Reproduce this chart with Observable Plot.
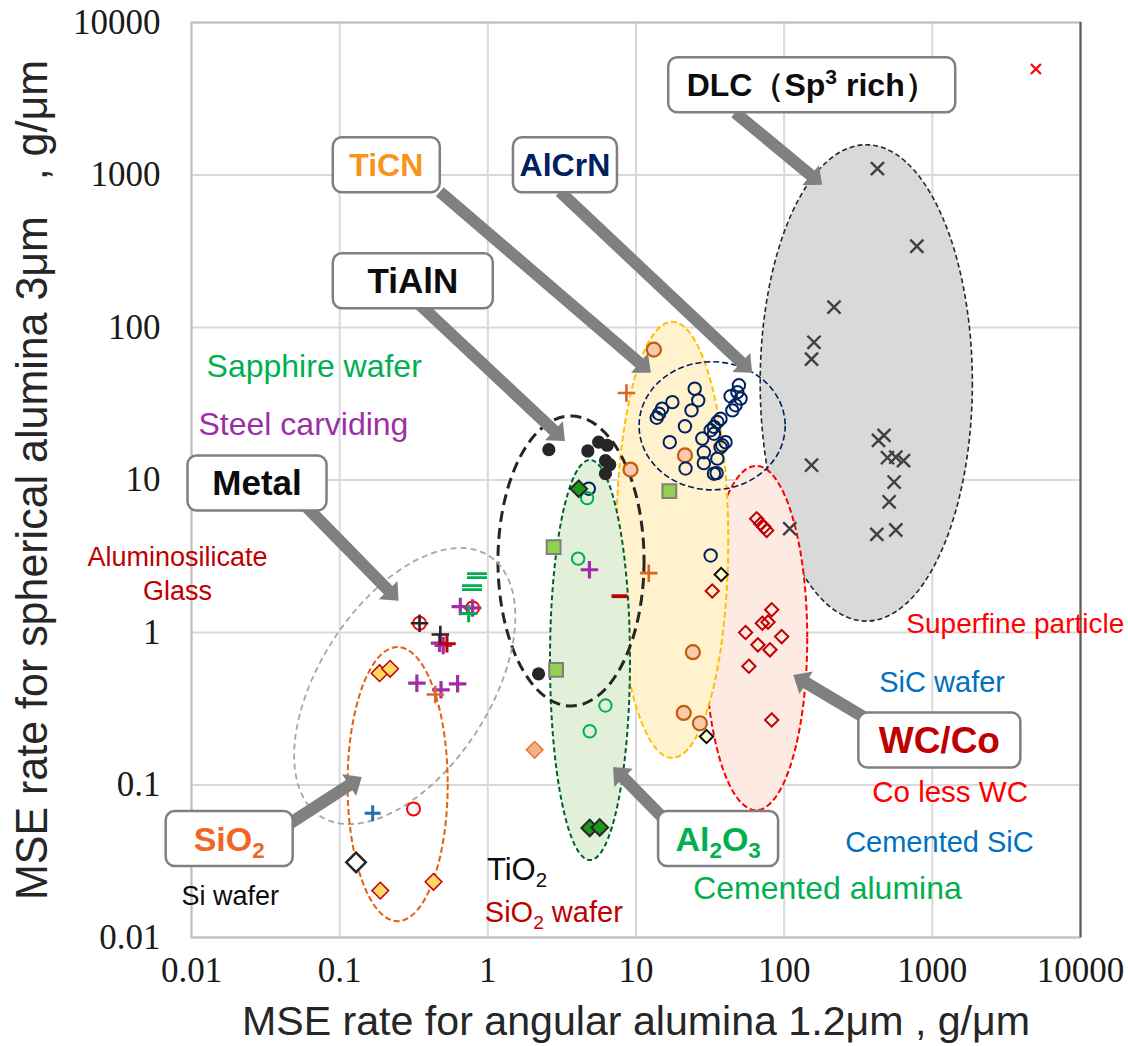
<!DOCTYPE html>
<html><head><meta charset="utf-8">
<script src="https://cdn.jsdelivr.net/npm/d3@7"></script>
<script src="https://cdn.jsdelivr.net/npm/@observablehq/plot@0.6"></script>
<style>
body{margin:0;background:#fff;}
#chart{position:relative;width:1128px;height:1046px;overflow:hidden;background:#fff;}
svg text{white-space:pre;}
</style></head><body><div id="chart"></div>
<script>
// ---------- axis ticks ----------
const tickValues = [0.01, 0.1, 1, 10, 100, 1000, 10000];
const tickLabels = ["0.01", "0.1", "1", "10", "100", "1000", "10000"];
const xTitle = "MSE rate for angular alumina 1.2μm , g/μm";
const yTitle = "MSE rate for spherical alumina 3μm   , g/μm";

// ---------- data series (x: angular alumina rate, y: spherical alumina rate) ----------
const dlcX = [426, 786, 217, 159, 153, 472, 433, 498, 567, 639, 153, 552, 511, 567, 422, 109];
const dlcY = [1100, 341, 136, 80, 62, 19.6, 18.2, 14.0, 14.1, 13.4, 12.5, 9.7, 7.2, 4.7, 4.4, 4.8];
const superfineX = [5000];
const superfineY = [4950];
const alcrnX = [24.9, 26.3, 17.6, 15.0, 14.3, 13.8, 23.7, 21.4, 16.9, 28.0, 21.6, 28.7, 28.7, 33.6, 35.0, 35.4, 37.2, 40.2, 33.6, 33.6, 35.4, 37.2, 44.7, 47.0, 43.5, 48.3, 49.5, 50.8, 38.2, 31.9, 31.9, 4.80];
const alcrnY = [39.7, 33.3, 32.4, 29.4, 27.2, 25.6, 28.6, 22.5, 17.7, 18.7, 11.9, 15.2, 12.9, 11.0, 11.1, 13.8, 16.4, 17.7, 20.1, 22.3, 24.0, 25.2, 28.6, 30.9, 35.4, 37.7, 41.8, 34.2, 16.9, 21.2, 3.2, 8.77];
const ticnX = [13.2, 21.4, 9.18, 24.2, 21.0, 27.0];
const ticnY = [71.6, 14.5, 11.7, 0.743, 0.297, 0.254];
const tialnX = [2.58, 4.73, 5.60, 6.39, 6.22, 6.65, 6.22, 2.20];
const tialnY = [15.8, 15.5, 17.7, 16.9, 13.4, 12.6, 11.0, 0.536];
const al2o3X = [4.68, 4.07, 6.22, 4.87];
const al2o3Y = [7.61, 3.05, 0.332, 0.225];
const sapphireX = [4.11, 4.87, 5.69];
const sapphireY = [8.77, 0.0523, 0.0527];
const cemAluminaX = [2.78, 16.8, 2.89];
const cemAluminaY = [3.63, 8.46, 0.569];
const steelX = [0.652, 0.789, 0.472, 0.50, 0.332, 0.483, 0.625, 4.85];
const steelY = [1.48, 1.45, 0.851, 0.822, 0.465, 0.421, 0.461, 2.58];
const metalBlackX = [0.346, 0.478];
const metalBlackY = [1.15, 0.97];
const metalRedX = [0.530];
const metalRedY = [0.843];
const metalOrangeX = [0.442, 8.62, 12.2];
const metalOrangeY = [0.392, 37.2, 2.45];
const metalGreenX = [0.742];
const metalGreenY = [1.33];
const metalBlueX = [0.167];
const metalBlueY = [0.0652];
const glassEqX = [0.845, 0.782];
const glassEqY = [2.36, 1.97];
const glassDashX = [7.74];
const glassDashY = [1.73];
const redCircleX = [0.315, 0.346, 0.789];
const redCircleY = [0.0697, 1.15, 1.45];
const sio2X = [0.186, 0.219, 0.188, 0.430];
const sio2Y = [0.541, 0.578, 0.0203, 0.0232];
const siWaferX = [0.129];
const siWaferY = [0.0311];
const sicX = [37.6, 29.9];
const sicY = [2.40, 0.208];
const tio2X = [2.07];
const tio2Y = [0.170];
const wccoX = [65.2, 69.4, 73.1, 76.2, 32.7, 82.4, 71.2, 77.8, 54.9, 96.2, 66.5, 80.2, 57.8, 82.4];
const wccoY = [5.57, 5.17, 4.91, 4.67, 1.87, 1.41, 1.15, 1.17, 1.0, 0.94, 0.830, 0.770, 0.601, 0.267];

// ---------- group regions (centre in data units, radii in decades) ----------
const regionName = ["DLC", "WCCo", "TiCN", "Al2O3", "AlCrN", "TiAlN", "Metal", "SiO2"];
const regionCx = [361, 65.2, 17.7, 4.93, 32.9, 3.67, 0.277, 0.248];
const regionCy = [43.0, 0.913, 4.02, 0.655, 22.5, 2.92, 0.442, 0.1006];
const regionRx = [0.716, 0.345, 0.378, 0.270, 0.493, 0.493, 1.047, 0.338];
const regionRy = [1.562, 1.129, 1.430, 1.312, 0.420, 0.951, 0.558, 0.899];
const regionAngle = [0, 0, 0, 0, 0, 0, -57, 0];

// ---------- callout arrows (from -> to, data units) ----------
const arrowX1 = [47.0, 0.478, 3.09, 0.350, 0.0585, 0.0396, 17.1, 355];
const arrowY1 = [2545, 771, 771, 140, 6.81, 0.0502, 0.0542, 0.273];
const arrowX2 = [182, 12.7, 61.3, 3.34, 0.252, 0.142, 7.05, 116];
const arrowY2 = [857, 50.1, 50.1, 17.9, 1.60, 0.112, 0.130, 0.522];

// ---------- boxed group labels ----------
const boxText = ["DLC（Sp^3 rich）", "TiCN", "AlCrN", "TiAlN", "Metal", "SiO_2", "Al_2O_3", "WC/Co"];
const boxX = [154.6, 0.208, 3.34, 0.314, 0.0279, 0.0181, 36.1, 1124];
const boxY = [3882, 1159, 1159, 201, 9.50, 0.0442, 0.0442, 0.1955];

// ---------- material notes ----------
const noteText = ["Sapphire wafer", "Steel carviding", "Aluminosilicate", "Glass", "Superfine particle", "SiC wafer", "Co less WC", "Cemented SiC", "Cemented alumina", "TiO_2", "SiO_2 wafer", "Si wafer"];
const noteX = [0.01274, 0.01124, 0.00811, 0.00811, 673, 442, 396, 260, 24.5, 0.993, 0.962, 0.00863];
const noteY = [47.1, 19.6, 2.71, 1.62, 0.985, 0.404, 0.0767, 0.0360, 0.0177, 0.0236, 0.0125, 0.0162];

// ---------- styles ----------
const regionStyle = {
  DLC:   {fill: "#d9d9d9", stroke: "#262626", width: 1.6, dash: "5,3"},
  WCCo:  {fill: "#fdebe3", stroke: "#ff0000", width: 2,   dash: "6,3"},
  TiCN:  {fill: "#fff2cc", stroke: "#ffc000", width: 2,   dash: "6,3"},
  Al2O3: {fill: "#e2f0d9", stroke: "#00602b", width: 2,   dash: "5,3"},
  AlCrN: {fill: "none",    stroke: "#002060", width: 1.6, dash: "6,3"},
  TiAlN: {fill: "none",    stroke: "#262626", width: 3,   dash: "11,6"},
  Metal: {fill: "none",    stroke: "#a6a6a6", width: 1.8, dash: "6,4"},
  SiO2:  {fill: "none",    stroke: "#e4600a", width: 2,   dash: "6,3"}
};
const boxColor = ["#0d0d0d", "#f7941d", "#002060", "#0d0d0d", "#0d0d0d", "#f26522", "#00b050", "#c00000"];
const boxSize = [32, 32, 32, 35, 35, 34, 34, 37];
const boxW = [287, 107, 104, 160, 139, 127, 120, 162];
const noteColor = ["#00b050", "#9b2fa6", "#c00000", "#c00000", "#ff0000", "#0070c0", "#ff0000", "#0070c0", "#00b050", "#0d0d0d", "#c00000", "#0d0d0d"];
const noteSize = [32, 32, 27, 27, 28, 29, 29.5, 29, 32, 31, 29, 27];
const noteAnchor = ["start", "start", "middle", "middle", "start", "start", "start", "start", "start", "start", "start", "start"];

const NS = "http://www.w3.org/2000/svg";
function el(name, attrs) {
  const e = document.createElementNS(NS, name);
  for (const k in attrs) e.setAttribute(k, attrs[k]);
  return e;
}
function rich(textEl, str, fs) {
  const parts = str.split(/([_^]\d)/);
  let back = 0;
  for (const p of parts) {
    if (!p) continue;
    const t = document.createElementNS(NS, "tspan");
    if (/^[_^]\d$/.test(p)) {
      const d = p[0] === "_" ? fs * 0.22 : -fs * 0.38;
      t.setAttribute("dy", d + back);
      t.setAttribute("font-size", fs * 0.66);
      t.textContent = p[1];
      back = -d;
    } else {
      if (back) t.setAttribute("dy", back);
      back = 0;
      t.textContent = p;
    }
    textEl.appendChild(t);
  }
}

const rows = (xs, ys) => xs.map((x, i) => ({x, y: ys[i]}));

// custom symbols
const symEquals = {draw(ctx, size) {
  const r = Math.sqrt(size / Math.PI);
  ctx.rect(-r, -r * 0.34, 2 * r, r * 0.28);
  ctx.rect(-r, r * 0.06, 2 * r, r * 0.28);
}};
const symDash = {draw(ctx, size) {
  const r = Math.sqrt(size / Math.PI);
  ctx.rect(-r, -r * 0.24, 2 * r, r * 0.48);
}};

function regionsMark(index, scales) {
  const g = el("g", {});
  regionName.forEach((name, i) => {
    const s = regionStyle[name];
    const cx = scales.x(regionCx[i]), cy = scales.y(regionCy[i]);
    const rx = scales.x(regionCx[i] * Math.pow(10, regionRx[i])) - cx;
    const ry = cy - scales.y(regionCy[i] * Math.pow(10, regionRy[i]));
    g.appendChild(el("ellipse", {cx, cy, rx, ry,
      transform: `rotate(${regionAngle[i]} ${cx} ${cy})`,
      fill: s.fill, stroke: s.stroke, "stroke-width": s.width, "stroke-dasharray": s.dash}));
  });
  return g;
}
function arrowsMark(index, scales) {
  const g = el("g", {fill: "#808080"});
  const hw = 6, hh = 13, hl = 15;
  arrowX1.forEach((_, i) => {
    const x1 = scales.x(arrowX1[i]), y1 = scales.y(arrowY1[i]);
    const x2 = scales.x(arrowX2[i]), y2 = scales.y(arrowY2[i]);
    const L = Math.hypot(x2 - x1, y2 - y1), ux = (x2 - x1) / L, uy = (y2 - y1) / L;
    const nx = -uy, ny = ux;
    const bx = x2 - ux * hl, by = y2 - uy * hl;
    const pts = [[x1 + nx * hw, y1 + ny * hw], [bx + nx * hw, by + ny * hw], [bx + nx * hh, by + ny * hh], [x2, y2],
                 [bx - nx * hh, by - ny * hh], [bx - nx * hw, by - ny * hw], [x1 - nx * hw, y1 - ny * hw]];
    g.appendChild(el("polygon", {points: pts.map(p => p.join(",")).join(" ")}));
  });
  return g;
}
function notesMark(index, scales) {
  const g = el("g", {"font-family": "'Liberation Sans', Arial, sans-serif"});
  noteText.forEach((s, i) => {
    const t = el("text", {x: scales.x(noteX[i]), y: scales.y(noteY[i]), fill: noteColor[i],
      "font-size": noteSize[i], "text-anchor": noteAnchor[i]});
    rich(t, s, noteSize[i]);
    g.appendChild(t);
  });
  return g;
}
function boxesMark(index, scales) {
  const g = el("g", {"font-family": "'Liberation Sans', Arial, sans-serif", "font-weight": "bold"});
  boxText.forEach((s, i) => {
    const cx = scales.x(boxX[i]), cy = scales.y(boxY[i]);
    g.appendChild(el("rect", {x: cx - boxW[i] / 2, y: cy - 27.5, width: boxW[i], height: 55, rx: 9, ry: 9,
      fill: "white", stroke: "#7f7f7f", "stroke-width": 2.5}));
    const t = el("text", {x: cx, y: cy, dy: "0.36em", "text-anchor": "middle", fill: boxColor[i], "font-size": boxSize[i]});
    rich(t, s, boxSize[i]);
    g.appendChild(t);
  });
  return g;
}

const plot = Plot.plot({
  width: 1128, height: 1046,
  marginLeft: 191, marginRight: 48, marginTop: 22, marginBottom: 109,
  style: {fontFamily: "'Liberation Serif', 'Times New Roman', serif", fontSize: "35px", color: "#1a1a1a", background: "white"},
  x: {type: "log", domain: [0.01, 10000], ticks: tickValues, tickFormat: d => tickLabels[tickValues.indexOf(d)], tickSize: 0, tickPadding: 20, label: null},
  y: {type: "log", domain: [0.01, 10000], ticks: tickValues, tickFormat: d => tickLabels[tickValues.indexOf(d)], tickSize: 0, tickPadding: 31, label: null},
  marks: [
    Plot.ruleX(tickValues, {stroke: "#d9d9d9", strokeWidth: 2}),
    Plot.ruleY(tickValues, {stroke: "#d9d9d9", strokeWidth: 2}),
    Plot.frame({stroke: "#bfbfbf", strokeWidth: 2}),
    Plot.ruleX([10000], {stroke: "#595959", strokeWidth: 2}),
    regionsMark,
    arrowsMark,
    Plot.dot(rows(dlcX, dlcY), {x: "x", y: "y", symbol: "times", r: 6, stroke: "#404040", strokeWidth: 2.4}),
    Plot.dot(rows(superfineX, superfineY), {x: "x", y: "y", symbol: "times", r: 4.6, stroke: "#ff0000", strokeWidth: 2.2}),
    Plot.dot(rows(wccoX, wccoY), {x: "x", y: "y", symbol: "diamond2", r: 6, stroke: "#c00000", strokeWidth: 2, fill: "none"}),
    Plot.dot(rows(ticnX, ticnY), {x: "x", y: "y", symbol: "circle", r: 7, fill: "#f8cbad", stroke: "#c55a11", strokeWidth: 2.2}),
    Plot.dot(rows(alcrnX, alcrnY), {x: "x", y: "y", symbol: "circle", r: 6.2, stroke: "#002060", strokeWidth: 2, fill: "none"}),
    Plot.dot(rows(tialnX, tialnY), {x: "x", y: "y", symbol: "circle", r: 6.6, fill: "#262626", stroke: "none"}),
    Plot.dot(rows(al2o3X, al2o3Y), {x: "x", y: "y", symbol: "circle", r: 6.2, stroke: "#00b050", strokeWidth: 2, fill: "none"}),
    Plot.dot(rows(cemAluminaX, cemAluminaY), {x: "x", y: "y", symbol: "square", r: 7.8, fill: "#92d050", stroke: "#7f7f7f", strokeWidth: 2}),
    Plot.dot(rows(sapphireX, sapphireY), {x: "x", y: "y", symbol: "diamond2", r: 7.5, fill: "#1e961e", stroke: "#262626", strokeWidth: 2}),
    Plot.dot(rows(redCircleX, redCircleY), {x: "x", y: "y", symbol: "circle", r: 6.5, stroke: "#ff0000", strokeWidth: 2, fill: "none"}),
    Plot.dot(rows(glassEqX, glassEqY), {x: "x", y: "y", symbol: symEquals, r: 10, fill: "#00b050", stroke: "none"}),
    Plot.dot(rows(glassDashX, glassDashY), {x: "x", y: "y", symbol: symDash, r: 8, fill: "#c00000", stroke: "none"}),
    Plot.dot(rows(steelX, steelY), {x: "x", y: "y", symbol: "plus", r: 5.7, stroke: "#a12ea8", strokeWidth: 3.2}),
    Plot.dot(rows(metalGreenX, metalGreenY), {x: "x", y: "y", symbol: "plus", r: 5.7, stroke: "#00b050", strokeWidth: 3}),
    Plot.dot(rows(metalBlackX, metalBlackY), {x: "x", y: "y", symbol: "plus", r: 5.7, stroke: "#262626", strokeWidth: 2.6}),
    Plot.dot(rows(metalRedX, metalRedY), {x: "x", y: "y", symbol: "plus", r: 5.7, stroke: "#c00000", strokeWidth: 3}),
    Plot.dot(rows(metalOrangeX, metalOrangeY), {x: "x", y: "y", symbol: "plus", r: 5.7, stroke: "#d9652b", strokeWidth: 2.6}),
    Plot.dot(rows(metalBlueX, metalBlueY), {x: "x", y: "y", symbol: "plus", r: 5.2, stroke: "#1f6fb4", strokeWidth: 3}),
    Plot.dot(rows(sio2X, sio2Y), {x: "x", y: "y", symbol: "diamond2", r: 7.5, fill: "#ffd966", stroke: "#c00000", strokeWidth: 1.5}),
    Plot.dot(rows(siWaferX, siWaferY), {x: "x", y: "y", symbol: "diamond2", r: 8.8, fill: "white", stroke: "#262626", strokeWidth: 2.5}),
    Plot.dot(rows(sicX, sicY), {x: "x", y: "y", symbol: "diamond2", r: 6, fill: "#ffffcc", stroke: "#0d0d0d", strokeWidth: 2}),
    Plot.dot(rows(tio2X, tio2Y), {x: "x", y: "y", symbol: "diamond2", r: 7.5, fill: "#f4b183", stroke: "#e07b39", strokeWidth: 1.5}),
    notesMark,
    boxesMark
  ]
});
document.getElementById("chart").appendChild(plot);

// axis titles
const svg = d3.select(plot);
svg.append("text").attr("x", 636).attr("y", 1035).attr("text-anchor", "middle")
  .attr("font-family", "'Liberation Sans', Arial, sans-serif").attr("font-size", 40).attr("fill", "#262626")
  .attr("textLength", 788).attr("lengthAdjust", "spacingAndGlyphs").text(xTitle);
svg.append("text").attr("transform", "translate(47,480) rotate(-90)").attr("text-anchor", "middle")
  .attr("font-family", "'Liberation Sans', Arial, sans-serif").attr("font-size", 44).attr("fill", "#262626")
  .attr("textLength", 840).attr("lengthAdjust", "spacingAndGlyphs").text(yTitle);
</script></body></html>
